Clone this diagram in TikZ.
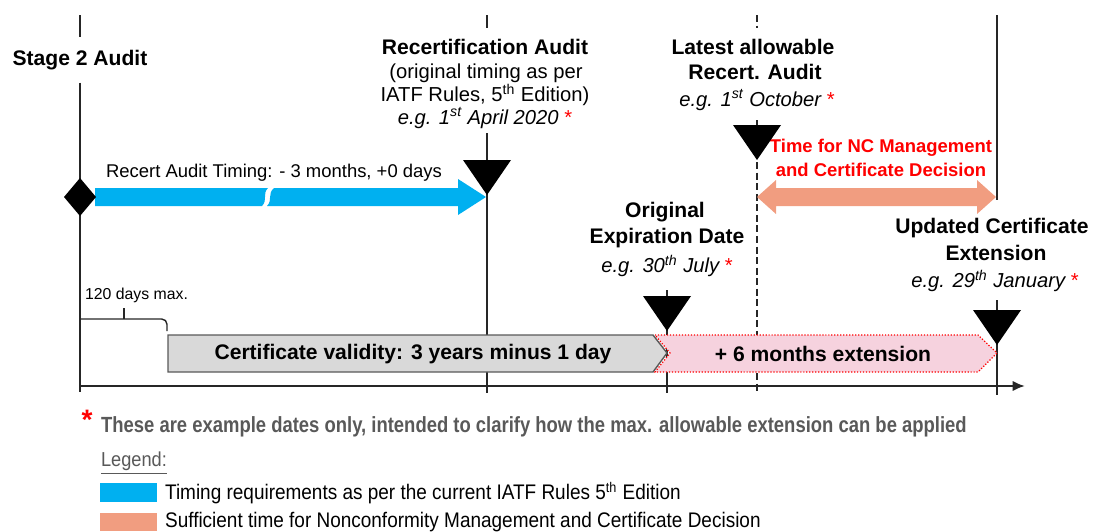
\documentclass[tikz,border=0pt]{standalone}
\usepackage{fontspec}
\setmainfont{Liberation Sans}
\newfontfamily\narrowfont[FakeStretch=0.84]{Liberation Sans}
\newfontfamily\legendfont[FakeStretch=0.9]{Liberation Sans}
\usetikzlibrary{arrows.meta}

\definecolor{timeblue}{RGB}{0,176,240}
\definecolor{ncsalmon}{RGB}{241,157,128}
\definecolor{extpink}{RGB}{246,210,222}
\definecolor{validgrey}{RGB}{217,217,217}
\definecolor{darkgrey}{RGB}{89,89,89}
\definecolor{linegrey}{RGB}{38,38,38}

\newcommand{\rstar}{\textcolor{red}{\upshape *}}
\newcommand{\fsz}[1]{\fontsize{#1}{#1}\selectfont}
% marker triangle, apex at (#1,#2)
\newcommand{\downmark}[2]{\fill (#1-24,#2-35) -- (#1+24,#2-35) -- (#1,#2) -- cycle;}

\begin{document}
\begin{tikzpicture}[x=0.02cm, y=-0.02cm,
  every node/.style={inner sep=1pt, align=center, text=black},
  title/.style={font=\bfseries\fsz{12}},
  sub/.style={font=\fsz{11.5}},
  eg/.style={font=\itshape\fsz{11.5}},
  ncnote/.style={font=\bfseries\fsz{10.5}, text=red},
  timeline/.style={line width=1pt, draw=linegrey},
  barlabel/.style={font=\bfseries\fsz{12}}
]
  \useasboundingbox (0,0) rectangle (1094,531);

  % Stage 2 Audit
  \node[title, inner ysep=7pt] (stage) at (80,60) {Stage 2 Audit};
  \coordinate (s2top) at (80,15);
  \coordinate (s2bot) at (80,392);
  \draw[timeline] (s2top) -- (s2top |- stage.north);
  \draw[timeline] (s2top |- stage.south) -- (s2bot);

  % Recertification Audit
  \node[title, inner ysep=6pt] (rctitle) at (485,47) {Recertification Audit};
  \node[sub] (rcsub1) at (486,73) {(original timing as per};
  \node[sub] (rcsub2) at (485,95) {IATF Rules, 5\textsuperscript{th} Edition)};
  \node[eg] (rceg) at (485,118) {e.g. 1\textsuperscript{st} April 2020 \rstar};
  \coordinate (rctop) at (487,15);
  \coordinate (rcline) at (487,133);
  \coordinate (rcbot) at (487,393);
  \draw[timeline] (rctop) -- (rctop |- rctitle.north);
  \draw[timeline] (rcline) -- (rcbot);

  % Latest allowable Recert. Audit
  \node[title, inner ysep=6pt] (lttitle) at (753,47) {Latest allowable};
  \node[title] (ltsub) at (755,72) {Recert. Audit};
  \node[eg] (lteg) at (757,100) {e.g. 1\textsuperscript{st} October \rstar};
  \coordinate (lttop) at (757,15);
  \coordinate (ltline) at (757,120);
  \coordinate (ltbot) at (757,393);
  \draw[timeline, dash pattern=on 4pt off 2pt] (lttop) -- (lttop |- lttitle.north);
  \draw[timeline, dash pattern=on 4pt off 2pt] (ltline) -- (ltbot);

  % Original Expiration Date
  \node[title] (ortitle) at (665,212) {Original};
  \node[title] (orsub) at (667,238) {Expiration Date};
  \node[eg] (oreg) at (667,266) {e.g. 30\textsuperscript{th} July \rstar};
  \coordinate (orline) at (667,290);
  \coordinate (orbot) at (667,393);
  \draw[timeline] (orline) -- (orbot);

  % Updated Certificate Extension
  \node[title] (uptitle) at (992,228) {Updated Certificate};
  \node[title] (upsub) at (996,253) {Extension};
  \node[eg] (upeg) at (995,281) {e.g. 29\textsuperscript{th} January \rstar};
  \coordinate (uptop) at (997,15);
  \coordinate (upmid) at (997,200);
  \coordinate (upline) at (997,300);
  \coordinate (upbot) at (997,395);
  \draw[timeline] (uptop) -- (upmid);
  \draw[timeline] (upline) -- (upbot);

  % time axis
  \coordinate (axstart) at (80,386);
  \coordinate (axend) at (1025,386);
  \draw[line width=1.4pt, draw=linegrey, -{Latex[length=7pt,width=6pt]}] (axstart) -- (axend);

  % blue timing arrow with break
  \fill[timeblue] (95,188) -- (268,188) .. controls (262,194) and (268,200) .. (262,206) -- (95,206) -- cycle;
  \fill[timeblue] (274,188) -- (458,188) -- (458,179) -- (486,197) -- (458,215) -- (458,206)
    -- (267,206) .. controls (273,200) and (267,194) .. (274,188) -- cycle;
  \fill (80,178) -- (96,197) -- (80,216) -- (64,197) -- cycle;
  \node[font=\fsz{10.5}, anchor=west] (timing) at (104,173) {Recert Audit Timing: - 3 months, +0 days};

  % salmon double arrow
  \fill[ncsalmon] (757,197) -- (776,180) -- (776,188) -- (977,188) -- (977,180) -- (996,197)
    -- (977,214) -- (977,206) -- (776,206) -- (776,214) -- cycle;
  \node[ncnote] (nc1) at (881,148) {Time for NC Management};
  \node[ncnote] (nc2) at (881,170) {and Certificate Decision};

  % markers
  \downmark{487}{195}
  \downmark{757}{160}
  \downmark{667}{331}
  \downmark{997}{345}

  % 120 days bracket
  \draw[line width=0.8pt, draw=linegrey, rounded corners=3pt]
    (80,319) -- (167,319) -- (167,331);
  \draw[line width=0.8pt, draw=linegrey] (124,319) -- (124,308);
  \node[font=\fsz{9}, anchor=west] (maxdays) at (83,295) {120 days max.};

  % validity and extension bars
  \draw[fill=validgrey, draw=darkgrey, line width=0.8pt]
    (168,335) -- (653,335) -- (667,353) -- (653,372) -- (168,372) -- cycle;
  \node[barlabel] (validity) at (413,354) {Certificate validity: 3 years minus 1 day};
  \draw[fill=extpink, draw=red, densely dotted, line width=0.7pt]
    (655,335) -- (978,335) -- (997,353) -- (978,372) -- (655,372) -- (670,353) -- cycle;
  \node[barlabel] (extension) at (823,354) {+ 6 months extension};

  % footnote
  \node[font=\bfseries\fsz{16}, text=red] (fnstar) at (87,420) {*};
  \node[font=\narrowfont\bfseries\fsz{12.5}, text=darkgrey, anchor=west] (fntext) at (99,427)
    {These are example dates only, intended to clarify how the max. allowable extension can be applied};

  % legend
  \node[font=\legendfont\fsz{11.5}, text=darkgrey, anchor=west] (legend) at (99,463) {\underline{Legend:}};
  \fill[timeblue] (100,483) rectangle (157,502);
  \node[font=\legendfont\fsz{12}, anchor=west] (legblue) at (163,493)
    {Timing requirements as per the current IATF Rules 5\textsuperscript{th} Edition};
  \fill[ncsalmon] (100,513) rectangle (157,531);
  \node[font=\legendfont\fsz{12}, anchor=west] (legsalmon) at (163,522)
    {Sufficient time for Nonconformity Management and Certificate Decision};
\end{tikzpicture}
\end{document}
